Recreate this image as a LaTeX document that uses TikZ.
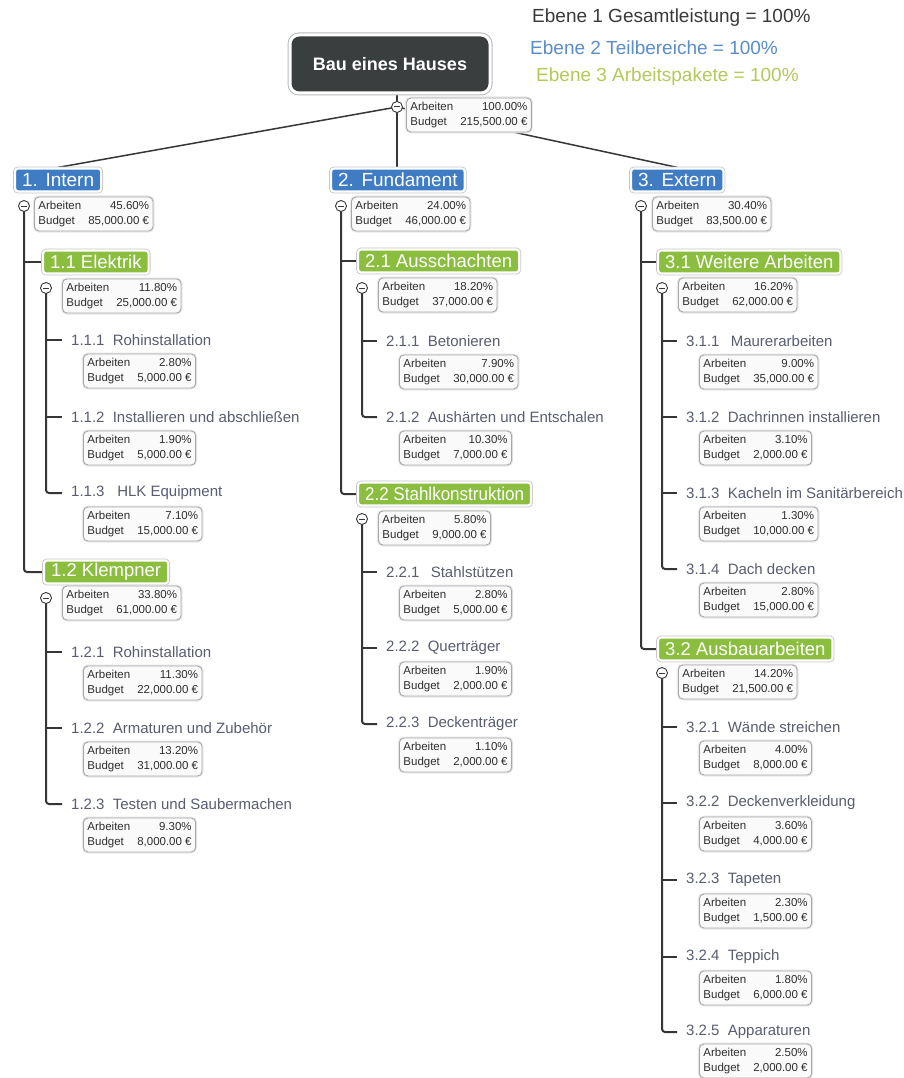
\documentclass[tikz,border=0pt]{standalone}
\usepackage{fontspec}
\setmainfont{Liberation Sans}
\usetikzlibrary{calc}
\pgfdeclarelayer{background}
\pgfsetlayers{background,main}

\definecolor{rootfill}{HTML}{3B3E3F}
\definecolor{lvlone}{HTML}{3F7CC3}
\definecolor{lvltwo}{HTML}{8BBE3F}
\definecolor{linecol}{HTML}{363636}
\definecolor{pkgtext}{HTML}{585D70}
\definecolor{infotext}{HTML}{2E2E2E}
\definecolor{infoframe}{HTML}{A8A8A8}
\definecolor{legone}{HTML}{3A3A3A}
\definecolor{legtwo}{HTML}{5B8DC9}
\definecolor{legthree}{HTML}{B4C95B}

% two-row key figure table: work share and budget
\newcommand\kv[2]{{\fontsize{11.5}{14.5}\selectfont
  \begin{tabular}{@{}l@{\hspace{7pt}}r@{}}Arbeiten & #1\\Budget & #2\end{tabular}}}
% work package title: number and name
\newcommand\pk[2]{#1\hspace{0.55em}#2}

\tikzset{
  ringbox/.style={rounded corners=3pt, draw=white, line width=2.2pt,
    preaction={draw=gray!45, line width=3.8pt}, text=white, anchor=west,
    inner xsep=7pt, inner ysep=0pt, minimum height=23pt},
  lvlonebox/.style={ringbox, fill=lvlone, font=\fontsize{19}{19}\selectfont},
  lvltwobox/.style={ringbox, fill=lvltwo, font=\fontsize{18.5}{18.5}\selectfont},
  rootbox/.style={rounded corners=9pt, fill=rootfill, draw=white, line width=3pt,
    preaction={draw=gray!55, line width=5pt}, text=white,
    font=\bfseries\fontsize{18}{18}\selectfont, minimum width=200pt, minimum height=58pt},
  info/.style={draw=infoframe, fill=gray!4, rounded corners=4.5pt, line width=0.9pt,
    preaction={draw=gray!18, line width=3pt},
    inner xsep=4pt, inner ysep=2.5pt, text=infotext, anchor=west},
  pkg/.style={anchor=west, text=pkgtext, font=\fontsize{15}{15}\selectfont,
    inner xsep=9pt, inner ysep=2pt},
  toggle/.style={circle, draw=linecol, fill=white, line width=0.9pt, minimum size=11pt,
    inner sep=0pt, path picture={\draw[line width=1pt]
      ([xshift=-3pt]path picture bounding box.center) --
      ([xshift=3pt]path picture bounding box.center);}},
  legend/.style={anchor=west, inner sep=0pt, font=\fontsize{19}{19}\selectfont},
  tree/.style={draw=linecol, line width=2pt, rounded corners=3pt},
  link/.style={draw=linecol, line width=1.5pt},
}

\begin{document}
\begin{tikzpicture}[x=1pt, y=-1pt]
\useasboundingbox (0,0) rectangle (904,1078);

% legend
\node[legend, text=legone] (lg1) at (532,18) {Ebene 1 Gesamtleistung = 100\%};
\node[legend, text=legtwo] (lg2) at (530,48) {Ebene 2 Teilbereiche = 100\%};
\node[legend, text=legthree] (lg3) at (536,77) {Ebene 3 Arbeitspakete = 100\%};

% root
\node[rootbox] (root) at (390,64) {Bau eines Hauses};
\node[toggle] (rc) at (397,107) {};
\node[info] (iroot) at (406,115) {\kv{100.00\%}{215,500.00 €}};

% level 1
\node[lvlonebox] (intern) at (14,180) {1.\hspace{0.4em}Intern};
\node[lvlonebox] (fund) at (330,180) {2.\hspace{0.4em}Fundament};
\node[lvlonebox] (ext) at (630,180) {3.\hspace{0.4em}Extern};
\node[toggle] (ci) at (24,206) {};
\node[toggle] (cf) at (341,206) {};
\node[toggle] (cx) at (641,206) {};
\node[info] (iI) at (34,214) {\kv{45.60\%}{85,000.00 €}};
\node[info] (iF) at (351,214) {\kv{24.00\%}{46,000.00 €}};
\node[info] (iX) at (652,214) {\kv{30.40\%}{83,500.00 €}};

% level 2
\node[lvltwobox] (elek) at (42,262) {1.1 Elektrik};
\node[lvltwobox] (klemp) at (43,572) {1.2 Klempner};
\node[lvltwobox] (aus) at (357,261) {2.1 Ausschachten};
\node[lvltwobox] (stahl) at (357,494) {\scalebox{0.92}[1]{2.2 Stahlkonstruktion}};
\node[lvltwobox] (weit) at (657,262) {3.1 Weitere Arbeiten};
\node[lvltwobox] (ausb) at (657,649) {3.2 Ausbauarbeiten};
\node[toggle] (ce) at (46,288) {};
\node[toggle] (ck) at (46,598) {};
\node[toggle] (ca) at (362,288) {};
\node[toggle] (cs) at (362,519) {};
\node[toggle] (cw) at (662,288) {};
\node[toggle] (cb) at (662,673) {};
\node[info] (iE) at (62,296) {\kv{11.80\%}{25,000.00 €}};
\node[info] (iK) at (62,603) {\kv{33.80\%}{61,000.00 €}};
\node[info] (iA) at (378,295) {\kv{18.20\%}{37,000.00 €}};
\node[info] (iS) at (378,528) {\kv{5.80\%}{9,000.00 €}};
\node[info] (iW) at (678,295) {\kv{16.20\%}{62,000.00 €}};
\node[info] (iB) at (678,682) {\kv{14.20\%}{21,500.00 €}};

% level 3, column 1
\node[pkg] (p111) at (62,340) {\pk{1.1.1}{Rohinstallation}};
\node[pkg] (p112) at (62,417) {\pk{1.1.2}{Installieren und abschließen}};
\node[pkg] (p113) at (62,493) {\pk{1.1.3}{\hspace{0.3em}HLK Equipment}};
\node[pkg] (p121) at (62,652) {\pk{1.2.1}{Rohinstallation}};
\node[pkg] (p122) at (62,728) {\pk{1.2.2}{Armaturen und Zubehör}};
\node[pkg] (p123) at (62,804) {\pk{1.2.3}{Testen und Saubermachen}};
\node[info] (i111) at (83,371) {\kv{2.80\%}{5,000.00 €}};
\node[info] (i112) at (83,448) {\kv{1.90\%}{5,000.00 €}};
\node[info] (i113) at (83,524) {\kv{7.10\%}{15,000.00 €}};
\node[info] (i121) at (83,683) {\kv{11.30\%}{22,000.00 €}};
\node[info] (i122) at (83,759) {\kv{13.20\%}{31,000.00 €}};
\node[info] (i123) at (83,835) {\kv{9.30\%}{8,000.00 €}};

% level 3, column 2
\node[pkg] (p211) at (377,341) {\pk{2.1.1}{Betonieren}};
\node[pkg] (p212) at (377,417) {\pk{2.1.2}{Aushärten und Entschalen}};
\node[pkg] (p221) at (377,572) {\pk{2.2.1}{\hspace{0.2em}Stahlstützen}};
\node[pkg] (p222) at (377,648) {\pk{2.2.2}{Querträger}};
\node[pkg] (p223) at (377,724) {\pk{2.2.3}{Deckenträger}};
\node[info] (i211) at (399,372) {\kv{7.90\%}{30,000.00 €}};
\node[info] (i212) at (399,448) {\kv{10.30\%}{7,000.00 €}};
\node[info] (i221) at (399,603) {\kv{2.80\%}{5,000.00 €}};
\node[info] (i222) at (399,679) {\kv{1.90\%}{2,000.00 €}};
\node[info] (i223) at (399,755) {\kv{1.10\%}{2,000.00 €}};

% level 3, column 3
\node[pkg] (p311) at (677,341) {\pk{3.1.1}{\hspace{0.2em}Maurerarbeiten}};
\node[pkg] (p312) at (677,417) {\pk{3.1.2}{Dachrinnen installieren}};
\node[pkg] (p313) at (677,493) {\pk{3.1.3}{Kacheln im Sanitärbereich}};
\node[pkg] (p314) at (677,569) {\pk{3.1.4}{Dach decken}};
\node[pkg] (p321) at (677,727) {\pk{3.2.1}{Wände streichen}};
\node[pkg] (p322) at (677,803) {\pk{3.2.2}{Deckenverkleidung}};
\node[pkg] (p323) at (677,880) {\pk{3.2.3}{Tapeten}};
\node[pkg] (p324) at (677,957) {\pk{3.2.4}{Teppich}};
\node[pkg] (p325) at (677,1032) {\pk{3.2.5}{Apparaturen}};
\node[info] (i311) at (699,372) {\kv{9.00\%}{35,000.00 €}};
\node[info] (i312) at (699,448) {\kv{3.10\%}{2,000.00 €}};
\node[info] (i313) at (699,524) {\kv{1.30\%}{10,000.00 €}};
\node[info] (i314) at (699,600) {\kv{2.80\%}{15,000.00 €}};
\node[info] (i321) at (699,758) {\kv{4.00\%}{8,000.00 €}};
\node[info] (i322) at (699,834) {\kv{3.60\%}{4,000.00 €}};
\node[info] (i323) at (699,911) {\kv{2.30\%}{1,500.00 €}};
\node[info] (i324) at (699,988) {\kv{1.80\%}{6,000.00 €}};
\node[info] (i325) at (699,1061) {\kv{2.50\%}{2,000.00 €}};

\begin{pgfonlayer}{background}
  \fill[white] (0,0) rectangle (904,1078);
  % root links
  \draw[link] (root.south -| rc) -- (rc);
  \draw[link] (rc.center) -- (intern.north);
  \draw[link] (rc.center) -- (fund.north -| rc);
  \draw[link] (rc.center) -- (ext.north);
  % level 1 trees
  \draw[tree] (ci.center) |- (klemp.west);
  \draw[tree] (ci.center |- elek.west) -- (elek.west);
  \draw[tree] (cf.center) |- (stahl.west);
  \draw[tree] (cf.center |- aus.west) -- (aus.west);
  \draw[tree] (cx.center) |- (ausb.west);
  \draw[tree] (cx.center |- weit.west) -- (weit.west);
  % level 2 trees
  \draw[tree] (ce.center) |- (p113.west);
  \draw[tree] (ce.center |- p111.west) -- (p111.west);
  \draw[tree] (ce.center |- p112.west) -- (p112.west);
  \draw[tree] (ck.center) |- (p123.west);
  \draw[tree] (ck.center |- p121.west) -- (p121.west);
  \draw[tree] (ck.center |- p122.west) -- (p122.west);
  \draw[tree] (ca.center) |- (p212.west);
  \draw[tree] (ca.center |- p211.west) -- (p211.west);
  \draw[tree] (cs.center) |- (p223.west);
  \draw[tree] (cs.center |- p221.west) -- (p221.west);
  \draw[tree] (cs.center |- p222.west) -- (p222.west);
  \draw[tree] (cw.center) |- (p314.west);
  \draw[tree] (cw.center |- p311.west) -- (p311.west);
  \draw[tree] (cw.center |- p312.west) -- (p312.west);
  \draw[tree] (cw.center |- p313.west) -- (p313.west);
  \draw[tree] (cb.center) |- (p325.west);
  \draw[tree] (cb.center |- p321.west) -- (p321.west);
  \draw[tree] (cb.center |- p322.west) -- (p322.west);
  \draw[tree] (cb.center |- p323.west) -- (p323.west);
  \draw[tree] (cb.center |- p324.west) -- (p324.west);
\end{pgfonlayer}
\end{tikzpicture}
\end{document}
